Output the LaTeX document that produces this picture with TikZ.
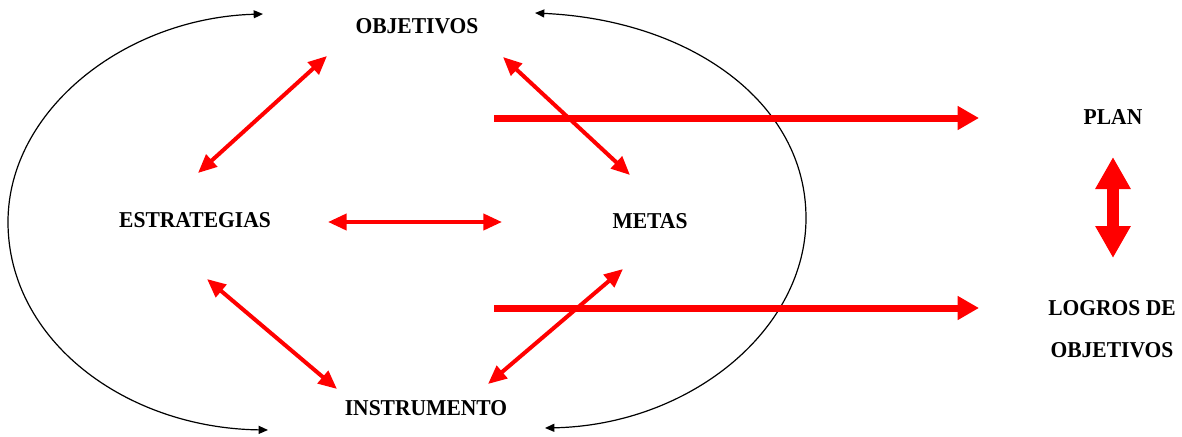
\documentclass[tikz,border=0pt]{standalone}
\usepackage{fontspec}
\setmainfont[FakeStretch=0.95]{Liberation Serif}
\usetikzlibrary{arrows.meta}
\definecolor{myred}{RGB}{255,0,0}
\begin{document}
\begin{tikzpicture}[x=0.75pt,y=-0.75pt,
  lbl/.style={inner sep=0pt,font=\fontsize{17pt}{31pt}\selectfont\bfseries,align=center},
  thinred/.style={draw=myred,line width=3pt,{Triangle[length=14pt,width=12pt]}-{Triangle[length=14pt,width=12pt]}},
  thickred/.style={draw=myred,line width=5.25pt,-{Triangle[length=16pt,width=17pt]}},
  bigred/.style={draw=myred,line width=9pt,{Triangle[length=24pt,width=25pt]}-{Triangle[length=24pt,width=25pt]}},
  blackarc/.style={draw=black,line width=0.9pt,{Triangle[length=7pt,width=6pt]}-{Triangle[length=7pt,width=6pt]}}]
\useasboundingbox (0,0) rectangle (1182,436);
% labels
\node[lbl] (obj) at (417,26) {OBJETIVOS};
\node[lbl] (est) at (195,220) {ESTRATEGIAS};
\node[lbl] (met) at (650,221) {METAS};
\node[lbl] (ins) at (426,408) {INSTRUMENTO};
\node[lbl] (plan) at (1113,117) {PLAN};
\node[lbl] (logros) at (1112,329) {LOGROS DE\\OBJETIVOS};
% connector ends
\coordinate (oe1) at (327,56);  \coordinate (oe2) at (198,173);
\coordinate (om1) at (503,57);  \coordinate (om2) at (630,175);
\coordinate (em1) at (328,222); \coordinate (em2) at (502,222);
\coordinate (ei1) at (207,279); \coordinate (ei2) at (337,389);
\coordinate (mi1) at (623,269); \coordinate (mi2) at (488,384);
\coordinate (pA) at (494,118);  \coordinate (pB) at (979,118);
\coordinate (lA) at (494,308);  \coordinate (lB) at (979,308);
\coordinate (vA) at (1113,157); \coordinate (vB) at (1113,258);
\coordinate (la1) at (263,14);  \coordinate (la2) at (268,430);
\coordinate (ra1) at (535,13);  \coordinate (ra2) at (545,428);
% black arcs
\draw[blackarc] (la1) .. controls (125,18) and (8,110) .. (8,222)
  .. controls (8,340) and (125,428) .. (la2);
\draw[blackarc] (ra1) .. controls (690,20) and (806,102) .. (806,218)
  .. controls (806,330) and (690,425) .. (ra2);
% red arrows
\draw[thinred] (oe2) -- (oe1);
\draw[thinred] (om1) -- (om2);
\draw[thinred] (em1) -- (em2);
\draw[thinred] (ei1) -- (ei2);
\draw[thinred] (mi2) -- (mi1);
\draw[thickred] (pA) -- (pB);
\draw[thickred] (lA) -- (lB);
\draw[bigred] (vA) -- (vB);
\end{tikzpicture}
\end{document}
